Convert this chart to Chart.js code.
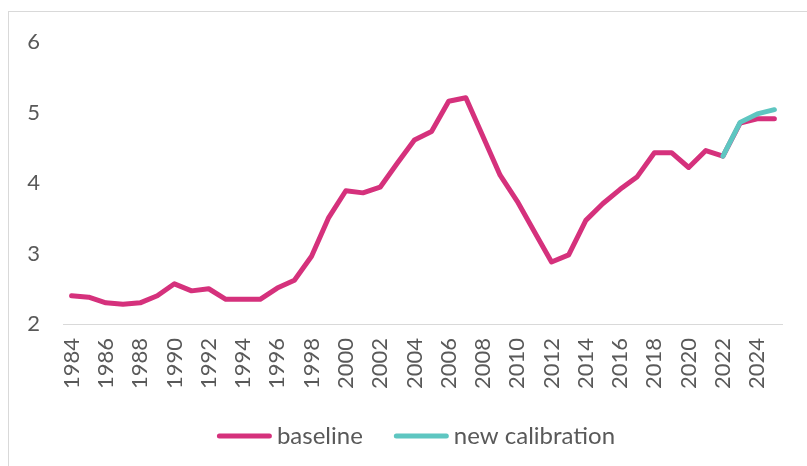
<!DOCTYPE html>
<html>
<head>
<meta charset="utf-8">
<script src="https://cdn.jsdelivr.net/npm/chart.js@4"></script>
<style>
  html, body { margin: 0; padding: 0; background: #fff; }
  #wrap { position: relative; width: 807px; height: 466px; overflow: hidden; }
  #frame { position: absolute; left: 8px; top: 11px; width: 900px; height: 600px; border: 1px solid #d9d9d9; box-sizing: border-box; }
  canvas { position: absolute; left: 0; top: 0; }
</style>
</head>
<body>
<div id="wrap">
  <div id="frame"></div>
  <canvas id="c" width="807" height="466"></canvas>
</div>
<script>
const years = [];
for (let y = 1984; y <= 2025; y++) years.push(String(y));

const baseline = [2.40, 2.38, 2.30, 2.28, 2.30, 2.40, 2.57, 2.47, 2.50, 2.35,
                  2.35, 2.35, 2.51, 2.62, 2.96, 3.51, 3.89, 3.86, 3.94, 4.28,
                  4.61, 4.73, 5.16, 5.21, 4.66, 4.11, 3.74, 3.31, 2.88, 2.98,
                  3.47, 3.71, 3.91, 4.09, 4.43, 4.43, 4.22, 4.46, 4.38, 4.85,
                  4.91, 4.91];

const newCalibration = [null, null, null, null, null, null, null, null, null, null,
                        null, null, null, null, null, null, null, null, null, null,
                        null, null, null, null, null, null, null, null, null, null,
                        null, null, null, null, null, null, null, null, 4.38, 4.86,
                        4.98, 5.04];

const yTicks = [2, 3, 4, 5, 6];

const MAGENTA = '#d5317c';
const TEAL = '#5ec6c1';
const TEXT = '#595959';
const FONT = 'Lato, "Open Sans", sans-serif';

Chart.defaults.font.family = FONT;
Chart.defaults.color = TEXT;

// Legend drawn with the chart's own canvas, from the dataset labels/colours
const lineLegend = {
  id: 'lineLegend',
  afterDraw(chart) {
    const ctx = chart.ctx;
    const items = chart.data.datasets.map(d => ({ text: d.label, color: d.borderColor }));
    const sample = 55, gap = 5, itemGap = 31, cy = 436, cx = 416;
    ctx.save();
    ctx.font = '24px ' + FONT;
    const widths = items.map(it => sample + gap + ctx.measureText(it.text).width);
    const total = widths.reduce((a, b) => a + b, 0) + itemGap * (items.length - 1);
    let x = cx - total / 2;
    items.forEach((it, i) => {
      ctx.strokeStyle = it.color;
      ctx.lineWidth = 5;
      ctx.lineCap = 'round';
      ctx.beginPath();
      ctx.moveTo(x + 2.5, cy);
      ctx.lineTo(x + sample - 2.5, cy);
      ctx.stroke();
      ctx.fillStyle = TEXT;
      ctx.textAlign = 'left';
      ctx.textBaseline = 'middle';
      ctx.fillText(it.text, x + sample + gap, cy);
      x += widths[i] + itemGap;
    });
    ctx.restore();
  }
};

new Chart(document.getElementById('c'), {
  type: 'line',
  data: {
    labels: years,
    datasets: [
      { label: 'baseline', data: baseline, borderColor: MAGENTA, backgroundColor: MAGENTA,
        borderWidth: 5, pointRadius: 0, tension: 0, borderJoinStyle: 'round', borderCapStyle: 'round', order: 1 },
      { label: 'new calibration', data: newCalibration, borderColor: TEAL, backgroundColor: TEAL,
        borderWidth: 5, pointRadius: 0, tension: 0, borderJoinStyle: 'round', borderCapStyle: 'round', order: 0 }
    ]
  },
  plugins: [lineLegend],
  options: {
    responsive: false,
    animation: false,
    layout: { padding: { left: 0, right: 18, top: 42, bottom: 0 } },
    plugins: {
      tooltip: { enabled: false },
      legend: { display: false }
    },
    scales: {
      x: {
        type: 'category',
        offset: true,
        grid: { display: false },
        border: { display: true, color: '#d9d9d9', width: 1 },
        ticks: {
          autoSkip: false,
          minRotation: 90,
          maxRotation: 90,
          padding: 6,
          font: { size: 22 },
          color: TEXT,
          callback(val, idx) {
            const lab = this.getLabelForValue(val);
            return (Number(lab) % 2 === 0) ? lab : '';
          }
        },
        afterFit(scale) { scale.height = 142; }
      },
      y: {
        min: 2,
        max: 6,
        afterBuildTicks(scale) { scale.ticks = yTicks.map(v => ({ value: v })); },
        grid: { display: false },
        border: { display: false },
        ticks: { font: { size: 22 }, color: TEXT, padding: 15 },
        afterFit(scale) { scale.width = 63; }
      }
    }
  }
});
</script>
</body>
</html>
